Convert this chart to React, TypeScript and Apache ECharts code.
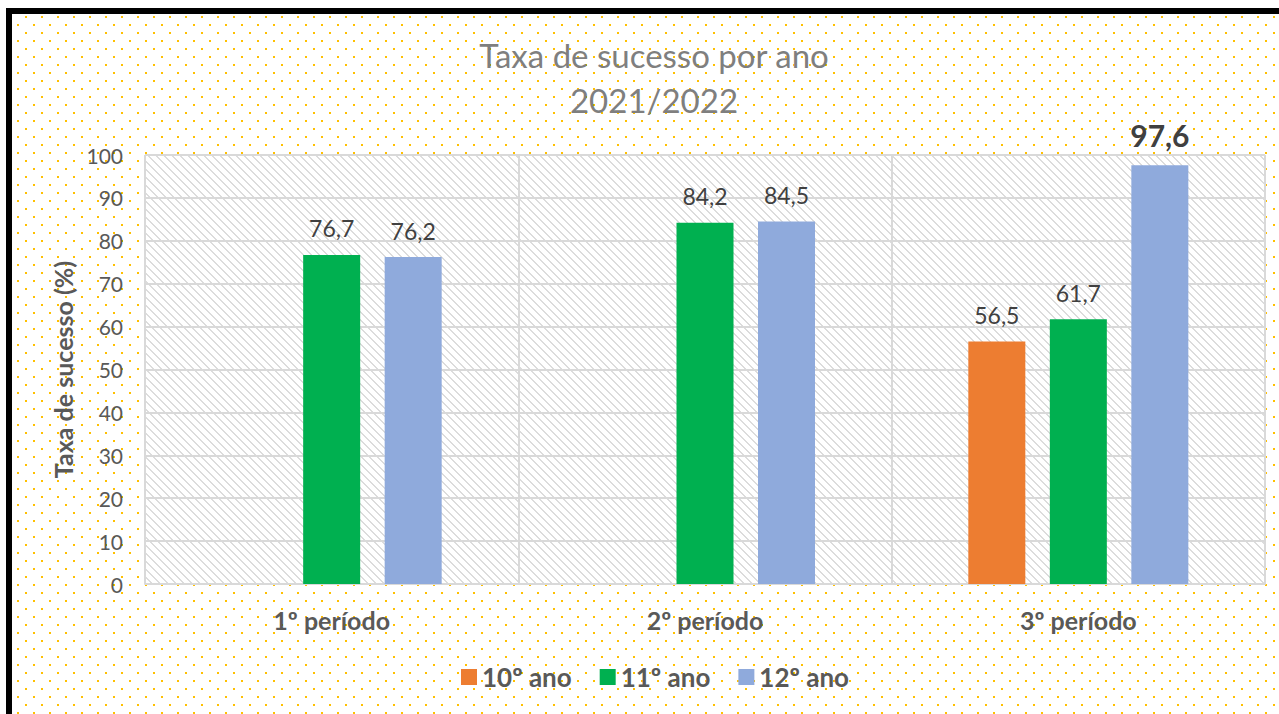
import React, { useEffect, useRef } from "react";
import * as echarts from "echarts";

const categories = ["1º período", "2º período", "3º período"];
const seriesNames = ["10º ano", "11º ano", "12º ano"];
const values10 = [null, null, 56.5];
const values11 = [76.7, 84.2, 61.7];
const values12 = [76.2, 84.5, 97.6];
const colors = ["#ED7D31", "#00B050", "#8FAADC"];
const highlight = { series: 2, index: 2 };

function makeDots(): HTMLCanvasElement {
  const c = document.createElement("canvas");
  c.width = 16;
  c.height = 16;
  const ctx = c.getContext("2d")!;
  ctx.fillStyle = "#FFC000";
  ctx.fillRect(9, 0, 2, 2);
  ctx.fillRect(1, 8, 2, 2);
  return c;
}

function makeHatch(): HTMLCanvasElement {
  const c = document.createElement("canvas");
  c.width = 8;
  c.height = 8;
  const ctx = c.getContext("2d")!;
  ctx.fillStyle = "#ffffff";
  ctx.fillRect(0, 0, 8, 8);
  ctx.fillStyle = "#dcdcdc";
  for (let i = 0; i < 8; i += 1) {
    ctx.fillRect(i, i, 1, 1);
    ctx.fillRect((i + 1) % 8, i, 1, 1);
  }
  return c;
}

export default function App() {
  const ref = useRef<HTMLDivElement>(null);
  useEffect(() => {
    if (!ref.current) return;
    const chart = echarts.init(ref.current, null, { renderer: "svg" });
    const dots = makeDots();
    const hatch = makeHatch();
    const all = [values10, values11, values12];
    const fmt = (p: any) =>
      p.value == null ? "" : Number(p.value).toFixed(1).replace(".", ",");
    chart.setOption({
      animation: false,
      backgroundColor: "#ffffff",
      textStyle: { fontFamily: "Lato" },
      graphic: [
        {
          type: "rect",
          z: -100,
          silent: true,
          shape: { x: 9, y: 11, width: 1400, height: 800 },
          style: {
            fill: { image: dots, repeat: "repeat" },
            stroke: "#000000",
            lineWidth: 6,
          },
        },
        {
          type: "text",
          x: 654,
          y: 32,
          z: 10,
          style: {
            text: "Taxa de sucesso por ano\n2021/2022",
            align: "center",
            verticalAlign: "top",
            fontFamily: "Lato",
            fontSize: 33,
            lineHeight: 45,
            fill: "#7F7F7F",
          },
        },
      ],
      grid: {
        left: 145,
        right: 14,
        top: 155,
        bottom: 130,
        show: true,
        borderWidth: 0,
        backgroundColor: { image: hatch, repeat: "repeat" },
      },
      legend: {
        data: seriesNames,
        left: 461,
        top: 664,
        padding: 0,
        itemWidth: 16,
        itemHeight: 16,
        itemGap: 28,
        icon: "rect",
        textStyle: {
          fontFamily: "Lato",
          fontSize: 26,
          fontWeight: "bold",
          color: "#595959",
        },
      },
      xAxis: {
        type: "category",
        data: categories,
        axisLine: { show: true, lineStyle: { color: "#D9D9D9", width: 2 } },
        axisTick: { show: false },
        splitLine: { show: true, lineStyle: { color: "#D9D9D9", width: 2 } },
        axisLabel: {
          fontFamily: "Lato",
          fontSize: 25,
          fontWeight: "bold",
          color: "#595959",
          margin: 23,
        },
      },
      yAxis: {
        type: "value",
        min: 0,
        max: 100,
        interval: 10,
        name: "Taxa de sucesso (%)",
        nameLocation: "middle",
        nameGap: 70,
        nameTextStyle: {
          fontFamily: "Lato",
          fontSize: 25,
          fontWeight: "bold",
          color: "#595959",
        },
        axisLine: { show: false },
        axisTick: { show: false },
        splitLine: { show: true, lineStyle: { color: "#D9D9D9", width: 2 } },
        axisLabel: {
          fontFamily: "Lato",
          fontSize: 21,
          color: "#595959",
          margin: 22,
        },
      },
      series: all.map((vals, si) => ({
        name: seriesNames[si],
        type: "bar",
        barWidth: 57,
        barGap: "43%",
        itemStyle: { color: colors[si] },
        label: {
          show: true,
          position: "top",
          distance: 15,
          formatter: fmt,
          fontFamily: "Lato",
          fontSize: 23,
          color: "#404040",
        },
        data: vals.map((v, i) =>
          si === highlight.series && i === highlight.index
            ? { value: v, label: { fontSize: 30, fontWeight: "bold", distance: 15 } }
            : v
        ),
      })),
    });
    return () => chart.dispose();
  }, []);
  return (
    <div
      ref={ref}
      style={{ position: "absolute", left: 0, top: 0, width: 1279, height: 714 }}
    />
  );
}
